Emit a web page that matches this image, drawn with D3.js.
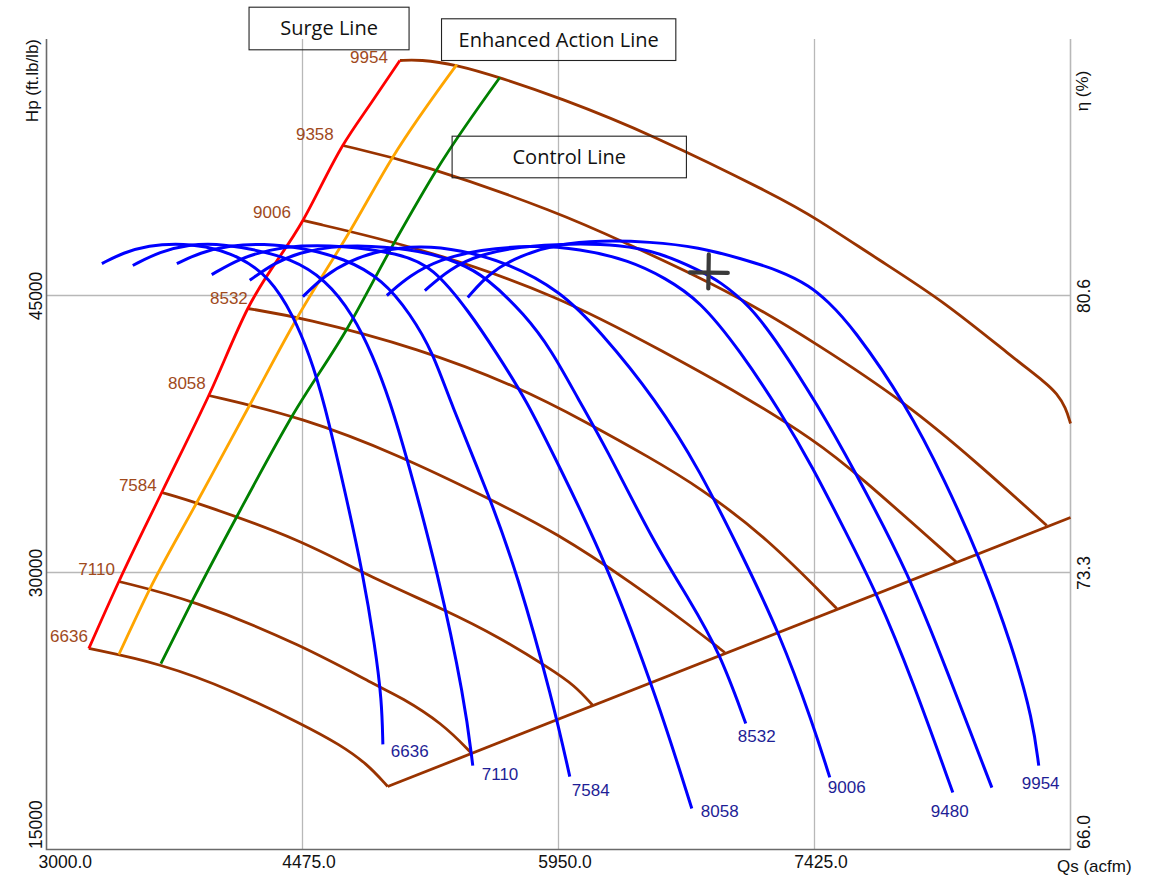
<!DOCTYPE html>
<html><head><meta charset="utf-8">
<script src="https://cdn.jsdelivr.net/npm/d3@7"></script>
<style>body{margin:0;background:#fff} svg{display:block}</style>
</head><body><svg id="c" width="1152" height="878"></svg>
<script>
// ---------- data (Qs in acfm, Hp in ft.lb/lb, eta in %) ----------
const xTicks = [3000, 4475, 5950, 7425];
const hpTicks = [15000, 30000, 45000];
const etaTicks = [66.0, 73.3, 80.6];

// speed lines (Hp vs Qs)
const speedNames = ["6636","7110","7584","8058","8532","9006","9358","9954"];
const hp6636 = [[3244,25885],[3659,25072],[4073,23610],[4477,21769],[4690,20686],[4845,19657],[4966,18412]];
const hp7110 = [[3417,29513],[3837,28538],[4477,26047],[4920,23773],[5036,23285],[5283,21823],[5450,20199]];
const hp7584 = [[3664,34332],[3866,33791],[4477,31733],[4845,29838],[5306,27942],[5612,26480],[5900,24802],[6044,23881],[6148,22798]];
const hp8058 = [[3935,39585],[4477,38394],[5036,36336],[5537,34062],[5946,32112],[6378,29404],[6707,27130],[6908,25668]];
const hp8532 = [[4160,44296],[4471,43809],[5151,42130],[5727,40018],[6113,38123],[6476,36228],[6764,34603],[7150,31895],[7553,28051]];
const hp9006 = [[4477,49062],[5151,47600],[5952,45000],[6574,41859],[6995,39693],[7427,37148],[7669,35361],[8245,30542]];
const hp9358 = [[4707,53123],[5151,52148],[5952,49495],[6344,47816],[6764,45975],[7052,44567],[7427,42455],[7957,39152],[8360,35957],[8763,32545]];
const hp9954 = [[5036,57726],[5151,57780],[5358,57509],[5612,56805],[5952,55722],[6476,53773],[7225,50307],[7427,49224],[7801,46896],[8164,44729],[8568,41643],[8763,40235],[8821,39693],[8873,38935],[8900,38069]];
const speedLines = [hp6636, hp7110, hp7584, hp8058, hp8532, hp9006, hp9358, hp9954];

const chokeLine = [[4966,18412],[8900,32978]];
const surgeLine = [[3244,25885],[3417,29513],[3664,34332],[3935,39585],[4160,44296],[4477,49062],[4707,53123],[4880,55560],[5036,57726]];
const enhancedLine = [[3417,25560],[3595,29100],[3866,33791],[4171,39070],[4448,43850],[4748,48480],[4995,52491],[5364,57500]];
const controlLine = [[3659,25072],[3843,28515],[4096,33020],[4419,38525],[4730,43170],[5007,47915],[5249,51823],[5612,56805]];

// efficiency curves (eta vs Qs)
const effLabels = ["6636","7110","7584","8058","8532","9006","9480","","9954"];
const eff6636 = [[3319,81.44],[3440,81.73],[3595,81.92],[3739,81.97],[3912,81.92],[4114,81.63],[4287,81.07],[4419,80.10],[4517,79.02],[4598,77.83],[4719,75.46],[4822,73.30],[4892,71.38],[4932,69.93],[4938,68.77]];
const eff7110 = [[3497,81.39],[3653,81.76],[3826,81.94],[3970,81.97],[4171,81.84],[4408,81.58],[4609,81.02],[4765,80.10],[4880,79.02],[4978,77.83],[5076,76.33],[5255,73.30],[5410,69.93],[5456,68.21]];
const eff7584 = [[3751,81.44],[3883,81.73],[4056,81.92],[4252,81.97],[4459,81.87],[4719,81.58],[4938,81.02],[5099,80.10],[5226,79.10],[5324,77.83],[5554,75.28],[5710,73.30],[5917,69.93],[6015,67.92]];
const eff8058 = [[3952,81.15],[4114,81.58],[4287,81.81],[4459,81.92],[4690,81.92],[5036,81.71],[5226,81.36],[5439,80.15],[5595,79.07],[5767,77.83],[5946,76.17],[6228,73.54],[6522,69.93],[6718,67.08]];
const eff8532 = [[4171,81.00],[4315,81.47],[4459,81.73],[4632,81.89],[4863,81.92],[5151,81.79],[5381,81.47],[5537,81.07],[5756,80.10],[5911,79.15],[6061,77.89],[6217,76.65],[6493,74.14],[6707,72.56],[6879,71.19],[7029,69.32]];
const eff9006 = [[4477,80.57],[4603,81.13],[4748,81.52],[4920,81.79],[5151,81.92],[5381,81.81],[5669,81.44],[5957,80.73],[6188,79.68],[6516,77.83],[6764,75.99],[6995,73.88],[7225,71.69],[7415,69.32],[7513,67.90]];
const eff9480 = [[4961,80.60],[5093,81.13],[5266,81.55],[5497,81.81],[5785,81.92],[6073,81.84],[6361,81.52],[6562,81.07],[6764,80.47],[6995,79.15],[7231,77.52],[7415,76.07],[7600,74.41],[7784,72.75],[7991,70.45],[8222,67.50]];
const effUnlabeled = [[5180,80.73],[5324,81.31],[5497,81.68],[5727,81.89],[6015,81.97],[6303,81.94],[6534,81.73],[6764,81.26],[6879,80.97],[7052,80.34],[7225,79.28],[7438,77.75],[7646,76.07],[7974,73.22],[8187,70.72],[8447,67.63]];
const eff9954 = [[5427,80.55],[5554,81.21],[5727,81.65],[5957,81.97],[6188,82.05],[6476,82.02],[6764,81.87],[6995,81.58],[7225,81.26],[7400,80.85],[7500,80.45],[7640,79.80],[7957,77.70],[8176,75.72],[8377,73.70],[8568,71.32],[8683,69.40],[8717,68.21]];
const effCurves = [eff6636, eff7110, eff7584, eff8058, eff8532, eff9006, eff9480, effUnlabeled, eff9954];

// operating point (Qs, Hp)
const opPoint = [6816, 46250];

// annotation boxes (data coords: Qs range, Hp range)
const boxTexts = ["Surge Line", "Enhanced Action Line", "Control Line"];
const boxQ = [[4167,5089],[5276,6626],[5337,6687]];
const boxHp = [[60612,58305],[59984,57726],[53627,51374]];

// ---------- layout (pixels) ----------
const plot = {left:46.5, right:1070.5, top:39, bottom:849.5};
const speedLabelOffset = [[-1,-6],[-4,-6],[-5,-2],[-3,-6],[0,-5],[-12,-2],[-9,-5],[-12,3]];
const effLabelOffset = [[8,13],[9,14],[2,19],[9,8],[-8,18],[-2,16],[-22,24],[0,0],[-17,23]];

const BROWN = "#993300", BROWN_TXT = "#a04a1c", BLUE = "#0000ff", NAVY = "#1e1e96";
const FONT = "'Liberation Sans', Arial, sans-serif";

const svg = d3.select("#c");
svg.append("rect").attr("width",1152).attr("height",878).attr("fill","#fff");

const x = d3.scaleLinear().domain([3000, 8900]).range([plot.left, plot.right]);
const yHp = d3.scaleLinear().domain([15000, 45000]).range([plot.bottom, 295.5]);
const yEta = d3.scaleLinear().domain([66.0, 80.6]).range([plot.bottom, 295.5]);

// grid
const grid = svg.append("g").attr("stroke","#b8b8b8").attr("stroke-width",1.3);
grid.selectAll("line.v").data(xTicks.slice(1)).join("line")
  .attr("x1",d=>x(d)).attr("x2",d=>x(d)).attr("y1",plot.top).attr("y2",plot.bottom);
grid.selectAll("line.h").data(hpTicks.slice(1)).join("line")
  .attr("x1",plot.left).attr("x2",plot.right).attr("y1",d=>yHp(d)).attr("y2",d=>yHp(d));
grid.append("line").attr("x1",plot.right).attr("x2",plot.right).attr("y1",plot.top).attr("y2",plot.bottom).attr("stroke-width",1.6);

// axis lines
svg.append("path").attr("d",`M${plot.left},${plot.top}V${plot.bottom}H${plot.right}`)
  .attr("fill","none").attr("stroke","#6a6a6a").attr("stroke-width",1.6);

// axes (labels)
const gx = svg.append("g").attr("transform",`translate(0,${plot.bottom})`)
  .call(d3.axisBottom(x).tickValues(xTicks).tickFormat(d3.format(".1f")).tickSize(0));
gx.select(".domain").remove();
gx.selectAll("text").attr("y",18.5).attr("dy",null).attr("dx",6)
  .attr("font-family",FONT).attr("font-size",17.5).attr("fill","#111");
gx.selectAll("text").filter((d,i)=>i===0).attr("text-anchor","start").attr("dx",-8.5);

const gl = svg.append("g").attr("transform",`translate(${plot.left},0)`)
  .call(d3.axisLeft(yHp).tickValues(hpTicks).tickFormat(d3.format("d")).tickSize(0));
gl.select(".domain").remove();
gl.selectAll("text").attr("x",null).attr("dy",null).attr("text-anchor","middle")
  .attr("transform","translate(-4.5,0) rotate(-90)")
  .attr("font-family",FONT).attr("font-size",17.5).attr("fill","#111");
gl.selectAll("text").filter(d=>d===15000).attr("text-anchor","start").attr("transform","translate(-4.5,-1) rotate(-90)");

const gr = svg.append("g").attr("transform",`translate(${plot.right},0)`)
  .call(d3.axisRight(yEta).tickValues(etaTicks).tickFormat(d3.format(".1f")).tickSize(0));
gr.select(".domain").remove();
gr.selectAll("text").attr("x",null).attr("dy",null).attr("text-anchor","middle")
  .attr("transform","translate(19.5,0) rotate(-90)")
  .attr("font-family",FONT).attr("font-size",17.5).attr("fill","#111");
gr.selectAll("text").filter(d=>d===66.0).attr("text-anchor","start").attr("transform","translate(19.5,-1) rotate(-90)");

// axis titles
svg.append("text").attr("transform",`translate(38,${plot.top}) rotate(-90)`).attr("text-anchor","end")
  .attr("font-family",FONT).attr("font-size",17).attr("fill","#111").text("Hp (ft.lb/lb)");
svg.append("text").attr("transform",`translate(1088,91) rotate(-90)`).attr("text-anchor","middle")
  .attr("font-family",FONT).attr("font-size",17).attr("fill","#111").text("η (%)");
svg.append("text").attr("x",1057).attr("y",872)
  .attr("font-family",FONT).attr("font-size",17).attr("fill","#111").text("Qs (acfm)");

// line generators (smooth B-spline through the read-off points)
const lineHp = d3.line().x(d=>x(d[0])).y(d=>yHp(d[1])).curve(d3.curveBasis);
const lineEta = d3.line().x(d=>x(d[0])).y(d=>yEta(d[1])).curve(d3.curveBasis);
const lineHpM = d3.line().x(d=>x(d[0])).y(d=>yHp(d[1])).curve(d3.curveMonotoneX);

// speed lines + choke
const gs = svg.append("g").attr("fill","none").attr("stroke",BROWN).attr("stroke-width",2.8).attr("stroke-linejoin","round");
gs.selectAll("path.s").data(speedLines).join("path").attr("d",lineHp);
gs.append("path").attr("d",d3.line().x(d=>x(d[0])).y(d=>yHp(d[1]))(chokeLine));

// surge / enhanced / control lines
svg.append("path").attr("d",lineHpM(enhancedLine)).attr("fill","none").attr("stroke","#ffa500").attr("stroke-width",2.8);
svg.append("path").attr("d",lineHpM(controlLine)).attr("fill","none").attr("stroke","#008000").attr("stroke-width",2.8);
svg.append("path").attr("d",lineHpM(surgeLine)).attr("fill","none").attr("stroke","#ff0000").attr("stroke-width",2.8);

// speed labels
svg.append("g").selectAll("text").data(speedLines).join("text")
  .attr("x",(d,i)=>x(d[0][0])+speedLabelOffset[i][0])
  .attr("y",(d,i)=>yHp(d[0][1])+speedLabelOffset[i][1])
  .attr("text-anchor","end").attr("font-family",FONT).attr("font-size",17).attr("fill",BROWN_TXT)
  .text((d,i)=>speedNames[i]);

// efficiency curves
svg.append("g").attr("fill","none").attr("stroke",BLUE).attr("stroke-width",3).attr("stroke-linejoin","round")
  .selectAll("path").data(effCurves).join("path").attr("d",lineEta);

svg.append("g").selectAll("text").data(effCurves).join("text")
  .attr("x",(d,i)=>x(d[d.length-1][0])+effLabelOffset[i][0])
  .attr("y",(d,i)=>yEta(d[d.length-1][1])+effLabelOffset[i][1])
  .attr("font-family",FONT).attr("font-size",17).attr("fill",NAVY)
  .text((d,i)=>effLabels[i]);

// operating point marker
const cx = x(opPoint[0]), cy = yHp(opPoint[1]);
const gm = svg.append("g").attr("stroke","#3a3a3a").attr("stroke-width",4.2).attr("stroke-linecap","round");
gm.append("line").attr("x1",cx-19).attr("y1",cy).attr("x2",cx+19).attr("y2",cy+0.5);
gm.append("line").attr("x1",cx).attr("y1",cy-18).attr("x2",cx-0.5).attr("y2",cy+16);

// annotation boxes
const gb = svg.append("g");
boxTexts.forEach((t,i)=>{
  const x0 = x(boxQ[i][0]), x1 = x(boxQ[i][1]);
  const y0 = yHp(boxHp[i][0]), y1 = yHp(boxHp[i][1]);
  gb.append("rect").attr("x",x0).attr("y",y0).attr("width",x1-x0).attr("height",y1-y0)
    .attr("fill","none").attr("stroke","#222").attr("stroke-width",1.1);
  gb.append("text").attr("x",(x0+x1)/2).attr("y",(y0+y1)/2+7).attr("text-anchor","middle")
    .attr("font-family","'Open Sans', 'Noto Sans', sans-serif").attr("font-size",20).attr("fill","#111").text(t);
});
</script>
</body></html>
